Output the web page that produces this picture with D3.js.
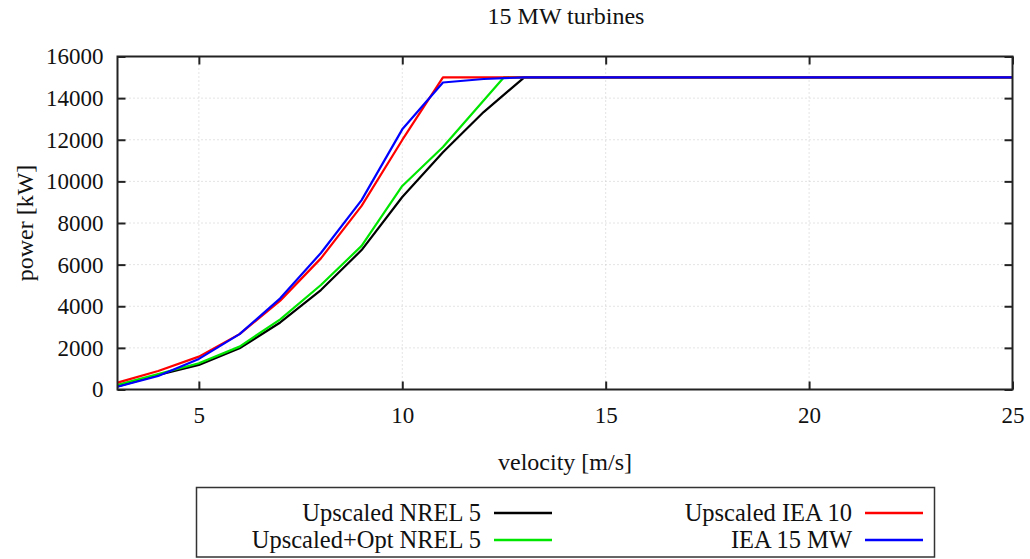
<!DOCTYPE html>
<html>
<head>
<meta charset="utf-8">
<script src="https://cdn.jsdelivr.net/npm/d3@7"></script>
<style>
  html, body { margin: 0; padding: 0; background: #fff; }
  svg text { font-family: "Liberation Serif", "Times New Roman", serif; }
</style>
</head>
<body>
<svg id="chart" width="1030" height="559"></svg>
<script>
// Power curves of 15 MW turbines: wind velocity [m/s] vs. power [kW]
const velocity = [3, 4, 5, 6, 7, 8, 9, 10, 11, 12, 13, 14, 15, 16, 17, 18, 19, 20, 21, 22, 23, 24, 25];
const velocityOpt = [3, 4, 5, 6, 7, 8, 9, 10, 11, 12.5, 13, 14, 15, 16, 17, 18, 19, 20, 21, 22, 23, 24, 25];

const upscaledNREL5 = [150, 700, 1180, 1980, 3220, 4780, 6700, 9250, 11400, 13330, 15000, 15000, 15000, 15000, 15000, 15000, 15000, 15000, 15000, 15000, 15000, 15000, 15000];
const upscaledOptNREL5 = [230, 745, 1260, 2060, 3370, 5020, 6900, 9780, 11650, 15000, 15000, 15000, 15000, 15000, 15000, 15000, 15000, 15000, 15000, 15000, 15000, 15000, 15000];
const upscaledIEA10 = [330, 890, 1580, 2660, 4270, 6300, 8820, 11990, 15000, 15000, 15000, 15000, 15000, 15000, 15000, 15000, 15000, 15000, 15000, 15000, 15000, 15000, 15000];
const iea15MW = [135, 650, 1470, 2660, 4380, 6560, 9100, 12500, 14750, 14920, 15000, 15000, 15000, 15000, 15000, 15000, 15000, 15000, 15000, 15000, 15000, 15000, 15000];

const xTicks = [5, 10, 15, 20, 25];
const yTicks = [0, 2000, 4000, 6000, 8000, 10000, 12000, 14000, 16000];

const seriesNames = ["Upscaled NREL 5", "Upscaled+Opt NREL 5", "Upscaled IEA 10", "IEA 15 MW"];
const seriesColors = ["#000000", "#00e600", "#ff0000", "#0000ff"];

const series = [
  { name: seriesNames[0], color: seriesColors[0], x: velocity, y: upscaledNREL5 },
  { name: seriesNames[1], color: seriesColors[1], x: velocityOpt, y: upscaledOptNREL5 },
  { name: seriesNames[2], color: seriesColors[2], x: velocity, y: upscaledIEA10 },
  { name: seriesNames[3], color: seriesColors[3], x: velocity, y: iea15MW }
];

const svg = d3.select("#chart");
const m = { left: 117.5, right: 1012.5, top: 56.5, bottom: 389.5 };

const x = d3.scaleLinear().domain([3, 25]).range([m.left, m.right]);
const y = d3.scaleLinear().domain([0, 16000]).range([m.bottom, m.top]);

// dotted grid
const grid = svg.append("g").attr("stroke", "#c8c8c8").attr("stroke-width", 1).attr("stroke-dasharray", "1,3");
grid.selectAll("line.gx").data(xTicks.filter(d => d < 25)).join("line")
  .attr("x1", d => x(d)).attr("x2", d => x(d)).attr("y1", m.top).attr("y2", m.bottom);
grid.selectAll("line.gy").data(yTicks.filter(d => d > 0 && d < 16000)).join("line")
  .attr("x1", m.left).attr("x2", m.right).attr("y1", d => y(d)).attr("y2", d => y(d));

// axes with inward ticks on all four sides
const tickLen = 8;
const font = 23;
const fmt = d3.format("d");
const axB = svg.append("g").attr("transform", `translate(0,${m.bottom})`)
  .call(d3.axisBottom(x).tickValues(xTicks).tickFormat(fmt).tickSize(-tickLen).tickPadding(17).tickSizeOuter(0));
const axT = svg.append("g").attr("transform", `translate(0,${m.top})`)
  .call(d3.axisTop(x).tickValues(xTicks).tickSize(-tickLen).tickFormat("").tickSizeOuter(0));
const axL = svg.append("g").attr("transform", `translate(${m.left},0)`)
  .call(d3.axisLeft(y).tickValues(yTicks).tickFormat(fmt).tickSize(-tickLen).tickPadding(14).tickSizeOuter(0));
const axR = svg.append("g").attr("transform", `translate(${m.right},0)`)
  .call(d3.axisRight(y).tickValues(yTicks).tickSize(-tickLen).tickFormat("").tickSizeOuter(0));

[axB, axT, axL, axR].forEach(a => {
  a.attr("font-family", null);
  a.select(".domain").remove();
  a.selectAll(".tick line").attr("stroke", "#222").attr("stroke-width", 2);
  a.selectAll(".tick text").attr("font-size", font).attr("fill", "#111");
});

// curves
const line = d3.line().x(d => x(d[0])).y(d => y(d[1]));
svg.append("g").selectAll("path").data(series).join("path")
  .attr("d", s => line(s.x.map((v, i) => [v, s.y[i]])))
  .attr("fill", "none")
  .attr("stroke", s => s.color)
  .attr("stroke-width", 2.2)
  .attr("stroke-linejoin", "round");

// frame
svg.append("rect")
  .attr("x", m.left).attr("y", m.top)
  .attr("width", m.right - m.left).attr("height", m.bottom - m.top)
  .attr("fill", "none").attr("stroke", "#222").attr("stroke-width", 2);

// titles
svg.append("text").attr("x", 566).attr("y", 24)
  .attr("text-anchor", "middle").attr("font-size", 24).attr("fill", "#111").text("15 MW turbines");
svg.append("text").attr("x", 565).attr("y", 470)
  .attr("text-anchor", "middle").attr("font-size", 24).attr("fill", "#111").text("velocity [m/s]");
svg.append("text").attr("transform", `translate(33,${(m.top + m.bottom) / 2}) rotate(-90)`)
  .attr("text-anchor", "middle").attr("font-size", 24).attr("fill", "#111").text("power [kW]");

// legend
const lg = svg.append("g");
lg.append("rect").attr("x", 196.5).attr("y", 487.5).attr("width", 738).attr("height", 69.5)
  .attr("fill", "#fff").attr("stroke", "#333").attr("stroke-width", 1.5);
const legendPos = [
  { tx: 481, ly: 513 }, { tx: 481, ly: 540 },
  { tx: 852, ly: 513 }, { tx: 852, ly: 540 }
];
series.forEach((s, i) => {
  const p = legendPos[i];
  lg.append("text").attr("x", p.tx).attr("y", p.ly).attr("dy", "0.33em")
    .attr("text-anchor", "end").attr("font-size", 24.5).attr("fill", "#111").text(s.name);
  lg.append("line").attr("x1", p.tx + 13).attr("x2", p.tx + 71).attr("y1", p.ly).attr("y2", p.ly)
    .attr("stroke", s.color).attr("stroke-width", 2.5);
});
</script>
</body>
</html>
